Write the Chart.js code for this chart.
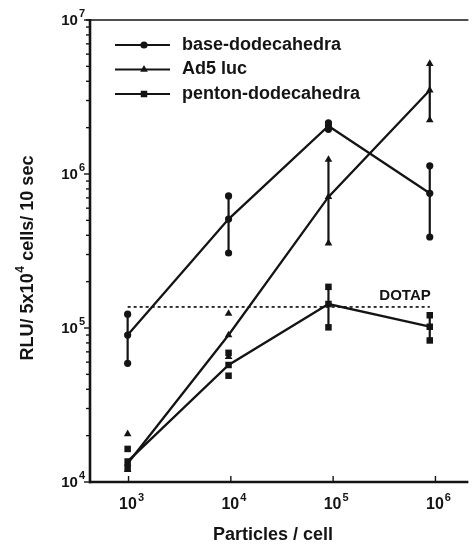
<!DOCTYPE html>
<html><head><meta charset="utf-8">
<script src="https://cdn.jsdelivr.net/npm/chart.js@4/dist/chart.umd.min.js"></script>
<style>html,body{margin:0;padding:0;background:#fff}#wrap{width:473px;height:546px}</style>
</head><body><div id="wrap"><canvas id="c" width="473" height="546"></canvas></div>
<script>
// ---- data ----
const particles = [980, 9500, 90000, 880000];
const baseDodeca = [9.0e4, 5.1e5, 2.05e6, 7.5e5];
const baseLow    = [5.9e4, 3.07e5, 1.95e6, 3.9e5];
const baseHigh   = [1.23e5, 7.2e5, 2.15e6, 1.13e6];
const ad5Luc  = [1.32e4, 9.0e4, 7.1e5, 3.5e6];
const ad5Low  = [1.2e4, 6.5e4, 3.55e5, 2.24e6];
const ad5High = [2.05e4, 1.24e5, 1.24e6, 5.2e6];
const pentonDodeca = [1.36e4, 5.75e4, 1.43e5, 1.02e5];
const pentonLow    = [1.23e4, 4.9e4, 1.01e5, 8.3e4];
const pentonHigh   = [1.64e4, 6.9e4, 1.85e5, 1.21e5];
const dotapLevel = 1.37e5;
const dotapRange = [980, 880000];
const seriesNames = ['base-dodecahedra', 'Ad5 luc', 'penton-dodecahedra'];
const xTickExps = [3, 4, 5, 6];
const yTickExps = [4, 5, 6, 7];
const yMinorMultipliers = [2, 3, 4, 5, 6, 7, 8, 9];

// ---- styling ----
const INK = '#141414';
const FONT = '"Liberation Sans", Arial, Helvetica, sans-serif';
const styles = [
  {pointStyle: 'circle', radius: 3.6},
  {pointStyle: 'triangle', radius: 4.4},
  {pointStyle: 'rect', radius: 4.6}
];
const errSets = [
  {low: baseLow, high: baseHigh, bar: [true, true, true, true]},
  {low: ad5Low, high: ad5High, bar: [false, false, true, true]},
  {low: pentonLow, high: pentonHigh, bar: [false, false, true, true]}
];
const seriesVals = [baseDodeca, ad5Luc, pentonDodeca];

const datasets = seriesVals.map((vals, k) => ({
  label: seriesNames[k],
  data: particles.map((x, i) => ({x, y: vals[i]})),
  borderColor: INK, backgroundColor: INK,
  borderWidth: 2.3, tension: 0,
  pointStyle: styles[k].pointStyle, pointRadius: styles[k].radius,
  pointBorderWidth: 0, pointBackgroundColor: INK
}));
datasets.push({
  label: 'DOTAP',
  data: dotapRange.map(x => ({x, y: dotapLevel})),
  borderColor: INK, borderWidth: 1.7, borderDash: [3, 3],
  pointRadius: 0, tension: 0
});

function powLabel(ctx, base, exp, x, y, size, align, weight) {
  const w = weight || 'normal';
  const bf = `${w} ${size}px ${FONT}`;
  const ss = Math.round(size * 0.7);
  const sf = `${w} ${ss}px ${FONT}`;
  ctx.font = bf; const bw = ctx.measureText(base).width;
  ctx.font = sf; const ew = ctx.measureText(exp).width;
  const tot = bw + 1 + ew;
  let x0 = x;
  if (align === 'right') x0 = x - tot;
  else if (align === 'center') x0 = x - tot / 2;
  ctx.textAlign = 'left'; ctx.textBaseline = 'middle';
  ctx.font = bf; ctx.fillText(base, x0, y);
  ctx.font = sf; ctx.fillText(exp, x0 + bw + 1, y - size * 0.47);
}

const decor = {
  id: 'decor',
  beforeDatasetsDraw(chart) {
    const {ctx, chartArea: a, scales: {x, y}} = chart;
    ctx.save();
    ctx.strokeStyle = INK; ctx.fillStyle = INK; ctx.lineCap = 'butt';
    // axes
    ctx.lineWidth = 2.6;
    ctx.beginPath(); ctx.moveTo(a.left, a.top - 1); ctx.lineTo(a.left, a.bottom + 1.3); ctx.stroke();
    ctx.beginPath(); ctx.moveTo(a.left - 1, a.bottom); ctx.lineTo(a.right, a.bottom); ctx.stroke();
    ctx.lineWidth = 1.7;
    ctx.beginPath(); ctx.moveTo(a.left - 4, a.top); ctx.lineTo(a.right, a.top); ctx.stroke();
    // y ticks (outward)
    ctx.lineWidth = 1.4;
    yTickExps.forEach((e, idx) => {
      const py = y.getPixelForValue(Math.pow(10, e));
      ctx.beginPath(); ctx.moveTo(a.left, py); ctx.lineTo(a.left - 6, py); ctx.stroke();
      if (idx < yTickExps.length - 1) {
        yMinorMultipliers.forEach(m => {
          const my = y.getPixelForValue(m * Math.pow(10, e));
          ctx.beginPath(); ctx.moveTo(a.left, my); ctx.lineTo(a.left - 4, my); ctx.stroke();
        });
      }
    });
    // x ticks (inward)
    xTickExps.forEach(e => {
      const px = x.getPixelForValue(Math.pow(10, e));
      ctx.beginPath(); ctx.moveTo(px, a.bottom); ctx.lineTo(px, a.bottom - 6); ctx.stroke();
    });
    // tick labels
    yTickExps.forEach(e => {
      const py = y.getPixelForValue(Math.pow(10, e));
      powLabel(ctx, '10', String(e), a.left - 5, py + 1, 15, 'right', 'bold');
    });
    xTickExps.forEach(e => {
      const px = x.getPixelForValue(Math.pow(10, e));
      powLabel(ctx, '10', String(e), px + 3, a.bottom + 23, 16, 'center', 'bold');
    });
    // axis titles
    ctx.textAlign = 'center'; ctx.textBaseline = 'middle';
    ctx.font = `bold 18px ${FONT}`;
    ctx.fillText('Particles / cell', (x.getPixelForValue(1e4) + x.getPixelForValue(1e5)) / 2 - 9, 535);
    ctx.save();
    ctx.translate(28, 258); ctx.rotate(-Math.PI / 2);
    const p1 = 'RLU/ 5x10', p2 = '4', p3 = ' cells/ 10 sec';
    ctx.font = `bold 18px ${FONT}`;
    const w1 = ctx.measureText(p1).width, w3 = ctx.measureText(p3).width;
    ctx.font = `bold 12px ${FONT}`;
    const w2 = ctx.measureText(p2).width;
    let sx = -(w1 + w2 + w3 + 1) / 2;
    ctx.textAlign = 'left';
    ctx.font = `bold 18px ${FONT}`; ctx.fillText(p1, sx, 0);
    ctx.font = `bold 12px ${FONT}`; ctx.fillText(p2, sx + w1 + 0.5, -7.5);
    ctx.font = `bold 18px ${FONT}`; ctx.fillText(p3, sx + w1 + w2 + 1, 0);
    ctx.restore();
    ctx.restore();
  },
  afterDatasetsDraw(chart) {
    const {ctx, scales: {x, y}} = chart;
    ctx.save();
    ctx.strokeStyle = INK; ctx.fillStyle = INK; ctx.lineWidth = 2.2;
    errSets.forEach((es, k) => {
      particles.forEach((p, i) => {
        const px = x.getPixelForValue(p);
        const yl = y.getPixelForValue(es.low[i]);
        const yh = y.getPixelForValue(es.high[i]);
        if (es.bar[i]) {
          ctx.beginPath(); ctx.moveTo(px, yl); ctx.lineTo(px, yh); ctx.stroke();
        }
        [yl, yh].forEach(yy => {
          Chart.helpers.drawPoint(ctx, {pointStyle: styles[k].pointStyle, radius: styles[k].radius, rotation: 0, borderWidth: 0}, px, yy);
        });
      });
    });
    // DOTAP label
    ctx.font = `bold 15px ${FONT}`;
    ctx.textAlign = 'right'; ctx.textBaseline = 'middle';
    ctx.fillText('DOTAP', x.getPixelForValue(dotapRange[1]) + 1, y.getPixelForValue(dotapLevel) - 11);
    // legend
    seriesNames.forEach((name, k) => {
      const ly = 45 + k * 24.5;
      ctx.lineWidth = 2.2;
      ctx.beginPath(); ctx.moveTo(115, ly); ctx.lineTo(170, ly); ctx.stroke();
      Chart.helpers.drawPoint(ctx, {pointStyle: styles[k].pointStyle, radius: styles[k].radius, rotation: 0, borderWidth: 0}, 144, ly);
      ctx.font = `bold 18px ${FONT}`;
      ctx.textAlign = 'left'; ctx.textBaseline = 'middle';
      ctx.fillText(name, 182, ly);
    });
    ctx.restore();
  }
};

new Chart(document.getElementById('c'), {
  type: 'line',
  data: {datasets},
  options: {
    responsive: false, animation: false, devicePixelRatio: 1,
    layout: {padding: {top: 20, left: 0, right: 0, bottom: 0}},
    plugins: {legend: {display: false}, tooltip: {enabled: false}},
    scales: {
      x: {type: 'logarithmic', min: 420, max: 2.1e6,
          ticks: {display: false}, grid: {display: false}, border: {display: false},
          afterFit: s => { s.height = 64; }},
      y: {type: 'logarithmic', min: 1e4, max: 1e7,
          ticks: {display: false}, grid: {display: false}, border: {display: false},
          afterFit: s => { s.width = 90; }}
    }
  },
  plugins: [decor]
});
</script>
</body></html>
